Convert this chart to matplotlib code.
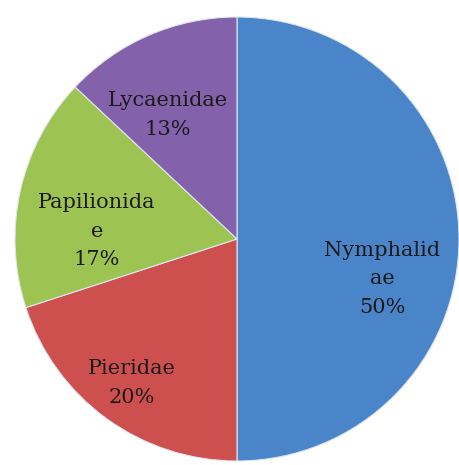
import matplotlib
matplotlib.use("Agg")
import matplotlib.pyplot as plt

# butterfly families share
families = ["Nymphalidae", "Pieridae", "Papilionidae", "Lycaenidae"]
shares = [50, 20, 17, 13]
label_text = ["Nymphalid\nae\n50%", "Pieridae\n20%", "Papilionida\ne\n17%", "Lycaenidae\n13%"]
colors = ["#4A85C9", "#CD4F4E", "#9DC452", "#8462AB"]

# label centres (data coords, pie radius = 1)
label_pos = [(0.653, -0.180), (-0.473, -0.649), (-0.631, 0.036), (-0.311, 0.559)]

fig = plt.figure(figsize=(4.6, 4.65), dpi=100)
fig.set_facecolor("white")
ax = fig.add_axes([0, 0, 1, 1])

ax.pie(
    shares,
    colors=colors,
    startangle=90,
    counterclock=False,
    radius=1.0,
    wedgeprops={"edgecolor": "#dfe6f0", "linewidth": 0.8},
)

for txt, (x, y) in zip(label_text, label_pos):
    ax.text(x, y, txt, ha="center", va="center", fontsize=15,
            family="DejaVu Serif", color="#1a1a1a", linespacing=1.65)

ax.set_xlim(-237 / 222, (460 - 237) / 222)
ax.set_ylim((239 - 465) / 222, 239 / 222)
ax.set_aspect("auto")
ax.axis("off")

plt.savefig("out.png", dpi=100, facecolor="white")
plt.close()
